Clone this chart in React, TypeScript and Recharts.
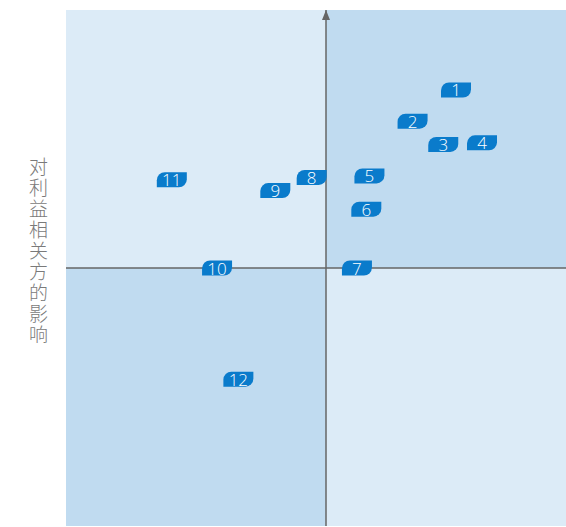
import { ScatterChart, Scatter, XAxis, YAxis, ReferenceArea, ReferenceLine } from 'recharts'

const ids = ['1', '2', '3', '4', '5', '6', '7', '8', '9', '10', '11', '12']
const xs = [5.0, 3.33, 4.51, 6.0, 1.67, 1.55, 1.19, -0.55, -1.95, -4.19, -5.93, -3.37]
const ys = [6.9, 5.69, 4.79, 4.85, 3.57, 2.28, 0, 3.51, 3.0, 0, 3.42, -4.31]
const yLabel = '对利益相关方的影响'

const data = ids.map((id, i) => ({ id, x: xs[i], y: ys[i] }))

const LIGHT = '#dcebf7'
const DARK = '#c0dbf0'
const BLUE = '#0a7bcb'
const AXIS = '#666'

function Leaf(props: any) {
  const { cx, cy, payload } = props
  const w = 30
  const h = 15
  const r = 8
  const x0 = cx - w / 2
  const y0 = cy - h / 2
  const d = `M${x0},${y0 + r} A${r},${r} 0 0 1 ${x0 + r},${y0} L${x0 + w},${y0} L${x0 + w},${y0 + h - r} A${r},${r} 0 0 1 ${x0 + w - r},${y0 + h} L${x0},${y0 + h} Z`
  return (
    <g>
      <path d={d} fill={BLUE} />
      <text
        x={cx}
        y={cy + 6.5}
        textAnchor="middle"
        fill="#fff"
        fontSize={17}
        fontWeight={300}
        fontFamily="'Open Sans', 'Noto Sans', sans-serif"
      >
        {payload.id}
      </text>
    </g>
  )
}

function Arrow(props: any) {
  const { viewBox } = props
  const x = viewBox.x
  const y = viewBox.y
  return <path d={`M${x},${y} L${x - 4},${y + 10} L${x + 4},${y + 10} Z`} fill={AXIS} />
}

export default function App() {
  return (
    <div style={{ position: 'relative', width: 566, height: 527, overflow: 'hidden', background: '#fff' }}>
      <style>{'body{margin:0}'}</style>
      <div
        style={{
          position: 'absolute',
          left: 27,
          top: 157,
          writingMode: 'vertical-rl',
          textOrientation: 'upright',
          fontSize: 19,
          letterSpacing: 2,
          lineHeight: '22px',
          color: '#7a7a7a',
          fontFamily: "'Noto Sans CJK SC', sans-serif",
          fontWeight: 300,
        }}
      >
        {yLabel}
      </div>
      <div style={{ position: 'absolute', left: 0, top: 0 }}>
        <ScatterChart width={586} height={527} margin={{ top: 10, right: 0, bottom: 1, left: 66 }}>
          <XAxis type="number" dataKey="x" domain={[-10, 10]} hide />
          <YAxis type="number" dataKey="y" domain={[-10, 10]} hide />
          <ReferenceArea x1={-10} x2={0} y1={0} y2={10} fill={LIGHT} fillOpacity={1} stroke="none" />
          <ReferenceArea x1={0} x2={10} y1={0} y2={10} fill={DARK} fillOpacity={1} stroke="none" />
          <ReferenceArea x1={-10} x2={0} y1={-10} y2={0} fill={DARK} fillOpacity={1} stroke="none" />
          <ReferenceArea x1={0} x2={10} y1={-10} y2={0} fill={LIGHT} fillOpacity={1} stroke="none" />
          <ReferenceLine y={0} stroke={AXIS} strokeWidth={1.5} />
          <ReferenceLine x={0} stroke={AXIS} strokeWidth={1.5} label={<Arrow />} />
          <Scatter data={data} shape={<Leaf />} isAnimationActive={false} />
        </ScatterChart>
      </div>
    </div>
  )
}
